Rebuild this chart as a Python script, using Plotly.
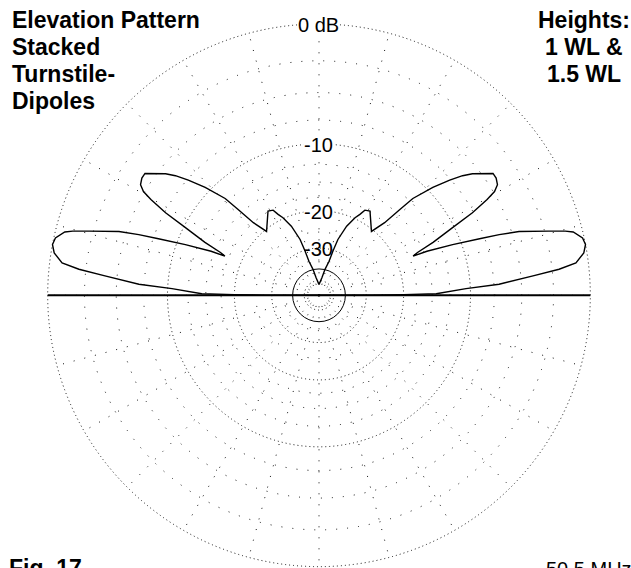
import plotly.graph_objects as go

# elevation pattern, right half (0 deg = right horizon, 90 deg = zenith), dB rel. max
elev_deg = [0, 0.25, 0.5, 0.8, 2.6, 3.5, 5.2, 6.2, 7.2, 9.1, 10.8, 12.3, 14.0, 14.6,
            15.6, 17.7, 18.6, 19.4, 20.8, 22.2, 22.6, 23.5, 24.9, 26.9, 28.3, 29.7,
            30.6, 31.8, 33.5, 35.0, 38.4, 39.8, 41.4, 43.5, 45.9, 46.7, 47.9, 50.6,
            58.8, 61.7, 63.2, 65.1, 68.2, 71.3, 72.5, 73.6, 77.0, 80.5, 87.6, 90]
gain_db = [-99, -28, -20, -14.4, -10.5, -7.0, -4.0, -2.0, -0.8, -0.2, 0.0, -0.1, -0.6, -1.1,
           -2.2, -4.4, -6.1, -8.0, -11.0, -14.5, -16.8, -15.9, -13.2, -10.2, -7.6, -5.8,
           -4.9, -4.4, -4.2, -4.2, -5.6, -6.4, -7.6, -9.4, -12.0, -14.3, -17.5, -20.4,
           -17.4, -17.7, -18.8, -19.8, -22.2, -26.2, -30.3, -35.0, -39.8, -46.4, -53.6, -55]

ring_major = [0, -10, -20, -30, -50]
ring_minor = [-2.5, -5, -7.5, -12.5, -15, -17.5, -25, -35]
ring_solid = [-40]
ring_labels = ["0 dB", "-10", "-20", "-30"]


def arrl(db):
    # ARRL log scale: 0.89 per 2 dB
    return 0.89 ** (-db / 2)


# pattern is symmetric about the zenith
theta = elev_deg + [180 - a for a in reversed(elev_deg)]
r = [arrl(g) for g in gain_db] + [arrl(g) for g in reversed(gain_db)]

W, H = 631, 568
RMAX = 1.005  # a bit of headroom so the 0 dB ring gets drawn
cx, cy, R = 319, 296, 272 * RMAX
dom_x = [(cx - R) / W, (cx + R) / W]
dom_y = [max(0.0, 1 - (cy + R) / H), 1 - (cy - R) / H]

fig = go.Figure()
for sp in ["polar", "polar2"]:
    fig.add_trace(go.Scatterpolar(r=[0], theta=[0], mode="markers", subplot=sp,
                                  marker=dict(opacity=0), hoverinfo="skip", showlegend=False))

fig.add_trace(go.Scatterpolar(r=[1, 0, 1], theta=[0, 0, 180], mode="lines", subplot="polar3",
                              line=dict(color="black", width=2), hoverinfo="skip", showlegend=False))
fig.add_trace(go.Scatterpolar(r=r, theta=theta, mode="lines", subplot="polar3",
                              line=dict(color="black", width=1.4), hoverinfo="skip", showlegend=False))


def polar_layout(ticks, dash, width, color, spokes):
    return dict(
        domain=dict(x=dom_x, y=dom_y),
        bgcolor="rgba(0,0,0,0)",
        radialaxis=dict(range=[0, RMAX], tickvals=[arrl(t) for t in ticks],
                        showticklabels=False, ticks="", showline=False,
                        gridcolor=color, gridwidth=width, griddash=dash),
        angularaxis=dict(showticklabels=False, ticks="", showline=False,
                         showgrid=spokes, dtick=15, gridcolor="#111", gridwidth=1.2,
                         griddash="1px,10px"),
    )


fig.update_layout(
    width=W, height=H,
    margin=dict(l=0, r=0, t=0, b=0),
    paper_bgcolor="white",
    plot_bgcolor="white",
    showlegend=False,
    polar=polar_layout(ring_minor, "1px,10px", 1.2, "#111", True),
    polar2=polar_layout(ring_solid, "solid", 1.3, "black", False),
    polar3=polar_layout(ring_major, "1px,3px", 1.1, "#111", False),
)

font_b = dict(family="Liberation Sans, Arial", size=23, color="black")
font_n = dict(family="Liberation Sans, Arial", size=20, color="black")


def ann(text, x, y, font, xanchor="center", bg=None):
    fig.add_annotation(text=text, x=x / W, y=1 - y / H, xref="paper", yref="paper",
                       xanchor=xanchor, yanchor="middle", showarrow=False, font=font,
                       bgcolor=bg, borderpad=0)


for i, line in enumerate(["<b>Elevation Pattern</b>", "<b>Stacked</b>",
                          "<b>Turnstile-</b>", "<b>Dipoles</b>"]):
    ann(line, 11, 20 + 27 * i, font_b, xanchor="left")
for i, line in enumerate(["<b>Heights:</b>", "<b>1 WL &</b>", "<b>1.5 WL</b>"]):
    ann(line, 584, 20 + 27 * i, font_b)

label_y = [25, 145, 212, 249]
for txt, ly in zip(ring_labels, label_y):
    ann(txt, 319, ly, font_n, bg="white" if txt != "-30" else None)

ann("<b>Fig. 17</b>", 8, 568, font_b, xanchor="left")
ann("50.5 MHz", 633, 569, dict(family="Liberation Sans, Arial", size=20, color="black"),
    xanchor="right")

# page body has a default 8px margin; drop it so the figure fills the window
fig.write_html("out.html", config={"displayModeBar": False},
               post_script="document.body.style.margin='0';")
